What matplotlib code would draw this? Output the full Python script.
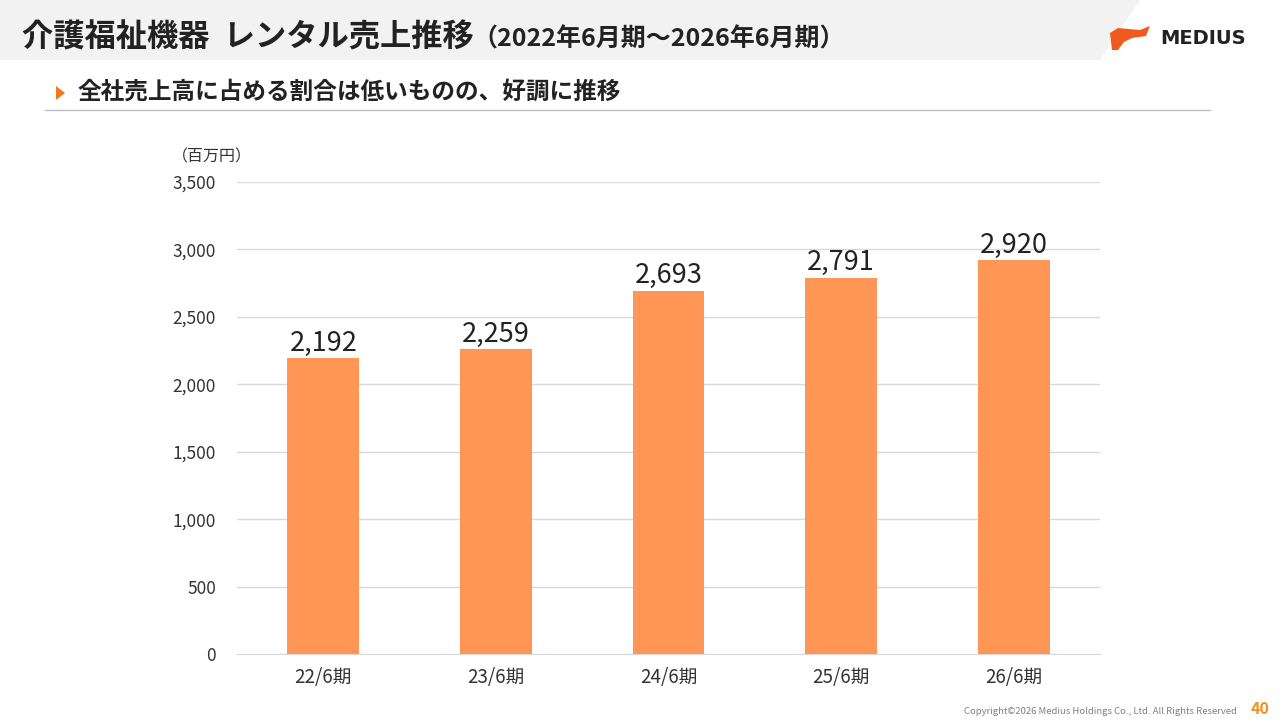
import matplotlib.pyplot as plt
from matplotlib.patches import Polygon

plt.rcParams['font.family'] = ['Noto Sans CJK JP', 'DejaVu Sans']

# データ
periods = ['22/6期', '23/6期', '24/6期', '25/6期', '26/6期']
sales = [2192, 2259, 2693, 2791, 2920]
yticks = [0, 500, 1000, 1500, 2000, 2500, 3000, 3500]

W, H = 1280, 720
fig = plt.figure(figsize=(12.8, 7.2), dpi=100)


def px(x, y):
    # ピクセル座標 -> figure座標
    return x / W, 1 - y / H


# ヘッダー帯
band = Polygon([px(0, 0), px(1140, 0), px(1100, 60), px(0, 60)],
               closed=True, transform=fig.transFigure, facecolor='#f2f2f2',
               edgecolor='none')
fig.patches.append(band)

fig.text(*px(22, 37), '介護福祉機器  レンタル売上推移', fontsize=22.5, fontweight='bold',
         color='#222222', va='center', ha='left')
fig.text(*px(472, 39), '（2022年6月期～2026年6月期）', fontsize=18, fontweight='bold',
         color='#222222', va='center', ha='left')

# ロゴ
logo = Polygon([px(1110, 33), px(1118, 28), px(1140, 30), px(1150, 26),
                px(1146, 36), px(1132, 38), px(1124, 42), px(1118, 50),
                px(1112, 50)],
               closed=True, transform=fig.transFigure, facecolor='#f05a1e',
               edgecolor='none')
fig.patches.append(logo)
fig.text(*px(1160, 39), 'MEDIUS', fontsize=14, fontweight='bold', color='#222222',
         va='center', ha='left', family='DejaVu Sans')

# サブタイトル
tri = Polygon([px(56, 86), px(65, 93), px(56, 100)], closed=True,
              transform=fig.transFigure, facecolor='#f07820', edgecolor='none')
fig.patches.append(tri)
fig.text(*px(78, 92), '全社売上高に占める割合は低いものの、好調に推移', fontsize=17,
         fontweight='bold', color='#222222', va='center', ha='left')
fig.add_artist(plt.Line2D([45 / W, 1210 / W], [1 - 110 / H, 1 - 110 / H],
                          transform=fig.transFigure, color='#bfbfbf', lw=1))

# グラフ
ax = fig.add_axes([237 / W, 1 - 654 / H, (1100 - 237) / W, (654 - 182) / H])
x = range(len(periods))
bars = ax.bar(x, sales, width=0.415, color='#ff9655', zorder=3)
for xi, v in zip(x, sales):
    ax.text(xi, v + 12, f'{v:,}', ha='center', va='bottom', fontsize=19.5,
            color='#222222')

ax.set_xlim(-0.5, len(periods) - 0.5)
ax.set_ylim(0, 3500)
ax.set_yticks(yticks)
ax.set_yticklabels([f'{t:,}' for t in yticks])
ax.set_xticks(list(x))
ax.set_xticklabels(periods)
ax.tick_params(axis='y', length=0, labelsize=12.5, colors='#333333', pad=15)
ax.tick_params(axis='x', length=0, labelsize=13.5, colors='#333333', pad=9)
ax.grid(axis='y', color='#d9d9d9', lw=1, zorder=0)
for s in ['top', 'right', 'left']:
    ax.spines[s].set_visible(False)
ax.spines['bottom'].set_color('#d9d9d9')

fig.text(*px(172, 157), '（百万円）', fontsize=11.5, color='#333333', va='center', ha='left')

# フッター
fig.text(*px(1237, 712), 'Copyright©2026 Medius Holdings Co., Ltd. All Rights Reserved',
         fontsize=6.8, color='#808080', ha='right', va='center')
fig.text(*px(1251, 709), '40', fontsize=11.5, fontweight='bold', color='#f0901e',
         ha='left', va='center')

fig.savefig('out.png', dpi=100)
